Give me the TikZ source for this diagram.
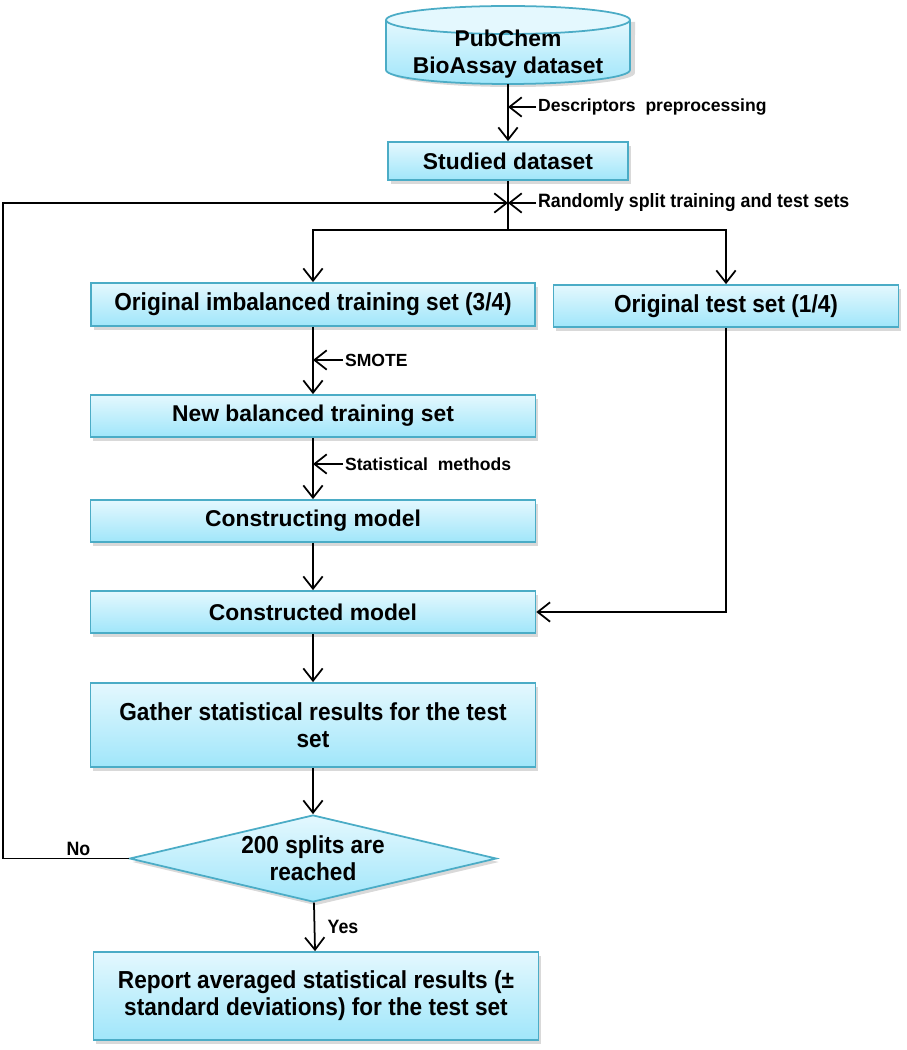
\documentclass[tikz,border=0pt]{standalone}
\usepackage{fontspec}
\setmainfont{Liberation Sans}
\newfontfamily\narrowsf[FakeStretch=0.92]{Liberation Sans}
\usetikzlibrary{shapes.geometric,shadows,arrows.meta}
\definecolor{boxedge}{RGB}{75,172,198}
\definecolor{boxtop}{RGB}{228,248,254}
\definecolor{boxbot}{RGB}{160,230,250}
\tikzset{
  box/.style={draw=boxedge, line width=1pt, top color=boxtop, bottom color=boxbot,
    drop shadow={shadow xshift=1.5pt, shadow yshift=-2pt, opacity=0.3},
    minimum width=8.9cm, minimum height=0.84cm, inner sep=2pt, align=center,
    font=\fontsize{13}{15.5}\selectfont\bfseries},
  narrowbox/.style={box, font=\fontsize{14}{15.5}\selectfont\narrowsf\bfseries},
  note/.style={font=\fontsize{10}{12}\selectfont\bfseries, inner sep=1pt, anchor=west},
  narrownote/.style={note, font=\fontsize{11}{12}\selectfont\narrowsf\bfseries},
  flow/.style={line width=1pt, -{Straight Barb[length=7pt,width=11pt]}},
}
\begin{document}
\begin{tikzpicture}[x=0.02cm, y=0.02cm]
  \useasboundingbox (0,0) rectangle (906,-1050);

  \fill[gray, opacity=0.3] (391,-22) -- (391,-73) arc[start angle=180, end angle=360, x radius=2.44cm, y radius=0.28cm] -- (635,-22) -- cycle;
  \fill[top color=boxtop, bottom color=boxbot] (386,-20) -- (386,-70) arc[start angle=180, end angle=360, x radius=2.44cm, y radius=0.28cm] -- (630,-20) -- cycle;
  \draw[boxedge, line width=1pt] (386,-20) -- (386,-70) arc[start angle=180, end angle=360, x radius=2.44cm, y radius=0.28cm] -- (630,-20);
  \draw[boxedge, line width=1pt, fill=boxtop] (508,-20) ellipse[x radius=2.44cm, y radius=0.28cm];
  \node[align=center, inner sep=0pt, minimum height=1.2cm, font=\fontsize{13}{15.5}\selectfont\bfseries] (db) at (508,-54) {PubChem\\BioAssay dataset};

  \node[box, minimum width=4.8cm, minimum height=0.76cm] (study) at (508,-161) {Studied dataset};
  \node[narrowbox, minimum width=8.88cm, minimum height=0.86cm] (orig) at (313,-304.5) {Original imbalanced training set (3/4)};
  \node[narrowbox, minimum width=6.9cm] (test) at (726,-306) {Original test set (1/4)};
  \node[box] (bal) at (313,-416) {New balanced training set};
  \node[box] (cing) at (313,-521) {Constructing model};
  \node[box] (cted) at (313,-612) {Constructed model};
  \node[narrowbox, minimum height=1.68cm] (gath) at (313,-725) {Gather statistical results for the test\\set};
  \node[narrowbox, diamond, aspect=3.5, minimum width=7.34cm, minimum height=1.74cm, inner sep=0pt] (check) at (313,-858.5) {200 splits are\\reached};
  \node[narrowbox, minimum height=1.76cm] (rep) at (316,-996) {Report averaged statistical results (±\\standard deviations) for the test set};

  \node[note] (prep) at (536,-107) {Descriptors\ \ preprocessing};
  \node[narrownote] (rsplit) at (536,-203) {Randomly split training and test sets};
  \node[note] (smote) at (343,-360) {SMOTE};
  \node[note] (stat) at (343,-464) {Statistical\ \ methods};
  \coordinate (split) at (rsplit.west -| study.south);
  \coordinate (fork) at (508,-230);
  \coordinate (back) at (3,-858.5);

  \draw[flow] (db.south) -- (study.north);
  \draw[flow] (prep.west) -- (prep.west -| study.north);
  \draw[line width=1pt] (study.south) -- (fork);
  \draw[flow] (rsplit.west) -- (split);
  \draw[flow] (fork) -| (orig.north);
  \draw[flow] (fork) -| (test.north);
  \draw[flow] (orig) -- (bal);
  \draw[flow] (smote.west) -- (smote.west -| orig.south);
  \draw[flow] (bal) -- (cing);
  \draw[flow] (stat.west) -- (stat.west -| bal.south);
  \draw[flow] (cing) -- (cted);
  \draw[flow] (test.south) |- (cted.east);
  \draw[flow] (cted) -- (gath);
  \draw[flow] (gath) -- (check);
  \draw[flow] (check) -- node[narrownote, right, xshift=6pt] {Yes} (rep);
  \draw[flow] (check.west) -- node[narrownote, above, pos=0.4] {No} (back) |- (split);
\end{tikzpicture}
\end{document}
